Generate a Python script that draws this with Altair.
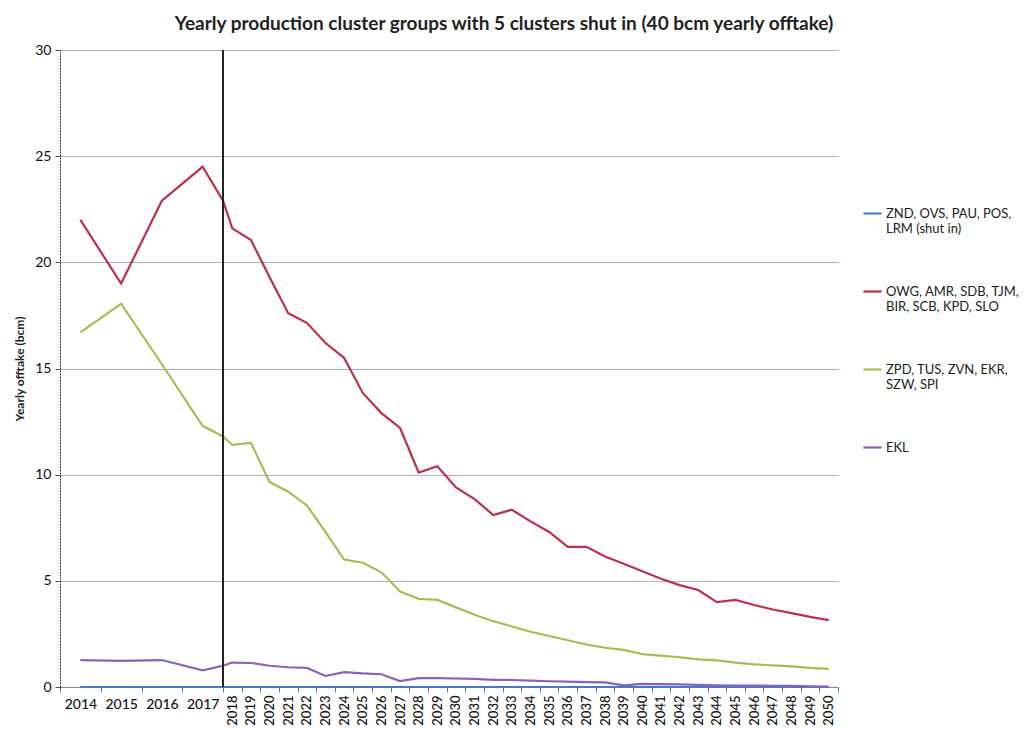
import altair as alt
import pandas as pd

# x categories (2017.5 = transition point drawn at the vertical marker)
years = [2014, 2015, 2016, 2017, 2017.5] + list(range(2018, 2051))
hist_labels = [2014, 2015, 2016, 2017]
fut_labels = list(range(2018, 2051))
divider = [2017.5]

series_names = [
    "ZND, OVS, PAU, POS,|LRM (shut in)",
    "OWG, AMR, SDB, TJM,|BIR, SCB, KPD, SLO",
    "ZPD, TUS, ZVN, EKR,|SZW, SPI",
    "EKL",
]
series_colors = ["#4a78c8", "#b8324e", "#a5bd58", "#8a64b4"]

shut_in = [0.0] * 38
owg = [22.0, 19.0, 22.9, 24.5, 22.9,
       21.6, 21.05, 19.3, 17.6, 17.15, 16.2, 15.5, 13.85, 12.9, 12.2,
       10.1, 10.4, 9.4, 8.85, 8.1, 8.35, 7.8, 7.3, 6.6, 6.6,
       6.15, 5.8, 5.45, 5.1, 4.8, 4.57, 4.0, 4.1, 3.86, 3.65,
       3.48, 3.3, 3.15]
zpd = [16.7, 18.05, 15.2, 12.3, 11.8,
       11.4, 11.5, 9.65, 9.2, 8.55, 7.3, 6.0, 5.85, 5.4, 4.5,
       4.15, 4.1, 3.75, 3.4, 3.1, 2.85, 2.6, 2.4, 2.2, 2.0,
       1.85, 1.75, 1.55, 1.48, 1.4, 1.3, 1.25, 1.15, 1.07, 1.02,
       0.97, 0.9, 0.85]
ekl = [1.27, 1.23, 1.27, 0.78, 1.0,
       1.15, 1.13, 1.0, 0.93, 0.9, 0.52, 0.7, 0.64, 0.6, 0.28,
       0.42, 0.42, 0.4, 0.38, 0.34, 0.33, 0.3, 0.27, 0.25, 0.23,
       0.22, 0.08, 0.15, 0.14, 0.12, 0.1, 0.08, 0.07, 0.07, 0.06,
       0.05, 0.03, 0.02]

rows = []
for name, vals in zip(series_names, [shut_in, owg, zpd, ekl]):
    for yr, v in zip(years, vals):
        rows.append({"year": yr, "value": v, "series": name})
df = pd.DataFrame(rows)

FONT = "Lato"
W, H = 778, 637

xscale = alt.Scale(domain=[2013.5, 2017.5, 2050.5], range=[0, 163, W], nice=False, zero=False)
yscale = alt.Scale(domain=[0, 30], nice=False, zero=True)

boundaries = [y - 0.5 for y in hist_labels + fut_labels] + [2050.5]

tick_axis = alt.Axis(values=boundaries, labels=False, ticks=True, tickSize=5, tickColor="#777",
                     domain=True, domainColor="#888", grid=False, title=None, orient="bottom")
hist_axis = alt.Axis(values=hist_labels, format="d", labelAngle=0, ticks=False, domain=False,
                     grid=False, title=None, orient="bottom", labelPadding=10,
                     labelFontSize=14, labelFont=FONT, labelColor="#111", labelFontWeight=500)
fut_axis = alt.Axis(values=fut_labels, format="d", labelAngle=270, labelAlign="right",
                    labelBaseline="middle", ticks=False, domain=False, grid=False, title=None,
                    orient="bottom", labelPadding=8, labelFontSize=13, labelFont=FONT,
                    labelColor="#111", labelFontWeight=500, labelOverlap=False)

y_axis = alt.Axis(values=[0, 5, 10, 15, 20, 25, 30], grid=True, gridColor="#a9acd4", gridWidth=1,
                  tickSize=5, tickColor="#555", domainColor="#333", domainDash=[2, 1],
                  labelFontSize=14, labelFont=FONT, labelColor="#111", labelPadding=4,
                  title="Yearly offtake (bcm)", titleFont=FONT, titleFontSize=12,
                  titleFontWeight="bold", titleColor="#222", titlePadding=8)

lines = alt.Chart(df).mark_line(strokeWidth=2.2).encode(
    x=alt.X("year:Q", scale=xscale, axis=tick_axis),
    y=alt.Y("value:Q", scale=yscale, axis=y_axis),
    color=alt.Color("series:N",
                    scale=alt.Scale(domain=series_names, range=series_colors),
                    sort=series_names,
                    legend=alt.Legend(orient="none", legendX=802, legendY=153, title=None,
                                      symbolType="stroke", symbolSize=330, symbolStrokeWidth=2.2,
                                      labelExpr="split(datum.label, '|')", labelFontSize=13,
                                      labelFont=FONT, labelColor="#222", labelLimit=300,
                                      rowPadding=45, labelOffset=3)),
)

div_df = pd.DataFrame({"x": divider})
marker = alt.Chart(div_df).mark_rule(color="#222", strokeWidth=2).encode(
    x=alt.X("x:Q", scale=xscale, axis=hist_axis)
)
marker2 = alt.Chart(div_df).mark_rule(strokeOpacity=0).encode(
    x=alt.X("x:Q", scale=xscale, axis=fut_axis)
)

chart = alt.layer(lines, marker, marker2).resolve_axis(x="independent").properties(
    width=W, height=H,
    autosize=alt.AutoSizeParams(type="none"),
    padding={"left": 52, "top": 42, "right": 185, "bottom": 40},
    title=alt.Title("Yearly production cluster groups with 5 clusters shut in (40 bcm yearly offtake)",
                    fontSize=19, fontWeight="bold", font=FONT, anchor="middle", dx=55,
                    offset=9, color="#222"),
).configure_view(stroke=None)

chart.save("out.html", embed_options={"renderer": "svg", "actions": False})
